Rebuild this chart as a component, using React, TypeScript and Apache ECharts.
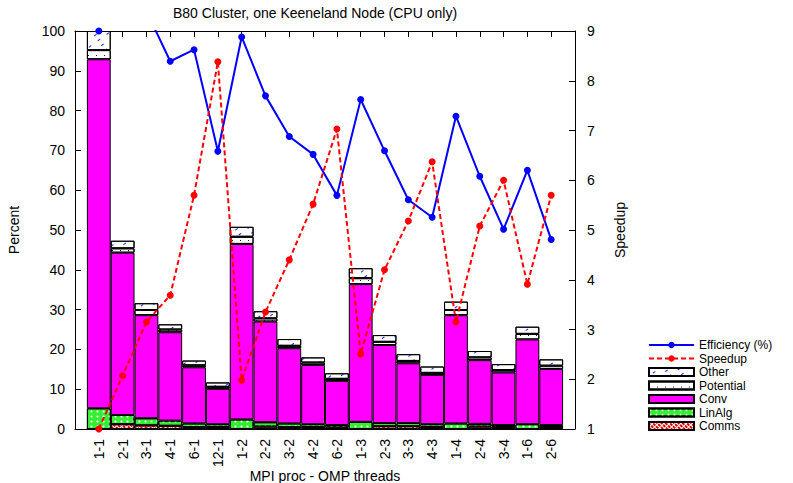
import React, { useEffect, useRef } from "react";
import * as echarts from "echarts";

const categories = ["1-1", "2-1", "3-1", "4-1", "6-1", "12-1", "1-2", "2-2", "3-2", "4-2", "6-2", "1-3", "2-3", "3-3", "4-3", "1-4", "2-4", "3-4", "1-6", "2-6"];

const comms = [0, 1.2, 0.9, 0.8, 0.5, 0.5, 0, 0.6, 0.5, 0.5, 0.4, 0, 0.7, 0.7, 0.5, 0, 0.6, 0.5, 0, 0.5];
const linAlg = [5.2, 2.3, 1.8, 1.3, 0.9, 0.7, 2.4, 1.1, 0.9, 0.7, 0.6, 1.8, 0.8, 0.8, 0.7, 1.4, 0.7, 0.5, 1.2, 0.5];
const conv = [87.7, 40.8, 25.9, 22.2, 14.1, 8.9, 44.1, 25.3, 18.9, 14.9, 11.1, 34.6, 19.6, 15.0, 12.4, 27.2, 16.0, 13.2, 21.3, 14.1];
const potential = [2.3, 1.1, 1.3, 0.7, 0.5, 0.5, 1.8, 0.8, 0.6, 0.6, 0.5, 1.5, 0.8, 0.6, 0.5, 1.3, 0.7, 0.6, 1.4, 0.8];
const other = [4.8, 1.9, 1.7, 1.3, 1.2, 1.1, 2.5, 1.8, 1.7, 1.3, 1.4, 2.5, 1.7, 1.7, 1.6, 2.1, 1.6, 1.5, 1.8, 1.6];
const efficiency = [100, 103.5, 105, 92.4, 95.3, 69.8, 98.5, 83.7, 73.5, 69.0, 58.7, 82.8, 69.9, 57.6, 53.2, 78.6, 63.5, 50.2, 65.0, 47.6];
const speedup = [1.0, 2.07, 3.15, 3.69, 5.7, 8.38, 1.98, 3.35, 4.4, 5.52, 7.03, 2.51, 4.2, 5.18, 6.37, 3.15, 5.08, 6.0, 3.91, 5.7];

const percentTicks = { min: 0, max: 100, interval: 10 };
const speedupTicks = { min: 1, max: 9, interval: 1 };

const FONT = "'Liberation Sans', Arial, Helvetica, sans-serif";

const pad = (arr: number[]) => [null, ...arr, null];

export default function App() {
  const ref = useRef<HTMLDivElement>(null);

  useEffect(() => {
    if (!ref.current) return;
    const chart = echarts.init(ref.current, undefined, { renderer: "svg" });
    const cats = ["", ...categories, ""];

    const barBase = {
      type: "bar",
      stack: "total",
      xAxisIndex: 0,
      yAxisIndex: 0,
      barCategoryGap: "0%",
      barGap: "0%",
    };

    const option = {
      animation: false,
      textStyle: { fontFamily: FONT, color: "#000" },
      title: {
        text: "B80 Cluster, one Keeneland Node (CPU only)",
        left: 168,
        top: 1,
        textStyle: { fontFamily: FONT, fontSize: 14, fontWeight: "normal", color: "#000" },
      },
      grid: { left: 75, top: 31, width: 500, height: 398, containLabel: false, outerBoundsMode: "none" },
      legend: {
        orient: "vertical",
        left: 648,
        top: 339,
        padding: 0,
        itemWidth: 45,
        itemHeight: 8,
        itemGap: 1.5,
        textStyle: { fontFamily: FONT, fontSize: 12, color: "#000" },
        data: [
          { name: "Efficiency (%)" },
          { name: "Speedup" },
          { name: "Other", icon: "rect" },
          { name: "Potential", icon: "rect" },
          { name: "Conv", icon: "rect" },
          { name: "LinAlg", icon: "rect" },
          { name: "Comms", icon: "rect" },
        ],
      },
      xAxis: [
        {
          type: "category",
          data: cats,
          boundaryGap: false,
          position: "bottom",
          name: "MPI proc - OMP threads",
          nameLocation: "middle",
          nameGap: 40,
          nameMoveOverlap: false,
          nameTextStyle: { fontFamily: FONT, fontSize: 14, color: "#000" },
          axisLine: { lineStyle: { color: "#000", width: 1 } },
          axisTick: { inside: true, length: 6, interval: 0, lineStyle: { color: "#000" } },
          axisLabel: { interval: 0, rotate: 90, fontSize: 14, color: "#000", fontFamily: FONT, margin: 10 },
          splitLine: { show: false },
        },
        {
          type: "category",
          data: cats,
          boundaryGap: false,
          position: "top",
          axisLine: { lineStyle: { color: "#000", width: 1 } },
          axisTick: { inside: true, length: 6, interval: 0, lineStyle: { color: "#000" } },
          axisLabel: { show: false },
          splitLine: { show: false },
        },
      ],
      yAxis: [
        {
          type: "value",
          ...percentTicks,
          position: "left",
          name: "Percent",
          nameLocation: "middle",
          nameGap: 54,
          nameRotate: 90,
          nameMoveOverlap: false,
          nameTextStyle: { fontFamily: FONT, fontSize: 14, color: "#000" },
          axisLine: { show: true, lineStyle: { color: "#000", width: 1 } },
          axisTick: { show: true, inside: true, length: 6, lineStyle: { color: "#000" } },
          axisLabel: { fontSize: 14, color: "#000", fontFamily: FONT, margin: 10 },
          splitLine: { show: false },
        },
        {
          type: "value",
          ...speedupTicks,
          position: "right",
          name: "Speedup",
          nameLocation: "middle",
          nameGap: 38,
          nameRotate: 90,
          nameMoveOverlap: false,
          nameTextStyle: { fontFamily: FONT, fontSize: 14, color: "#000" },
          axisLine: { show: true, lineStyle: { color: "#000", width: 1 } },
          axisTick: { show: true, inside: true, length: 6, lineStyle: { color: "#000" } },
          axisLabel: { fontSize: 14, color: "#000", fontFamily: FONT, margin: 12 },
          splitLine: { show: false },
        },
      ],
      series: [
        {
          ...barBase,
          name: "Comms",
          data: pad(comms),
          itemStyle: {
            color: "#ffffff",
            borderColor: "#000",
            borderWidth: 1,
            decal: { symbol: "rect", color: "#e00000", symbolSize: 1, dashArrayX: [3, 1], dashArrayY: [2, 1], rotation: Math.PI / 4 },
          },
        },
        {
          ...barBase,
          name: "LinAlg",
          data: pad(linAlg),
          itemStyle: {
            color: "#33ee33",
            borderColor: "#000",
            borderWidth: 1,
            decal: { symbol: "circle", color: "#ffffff", symbolSize: 0.7, dashArrayX: [3, 3], dashArrayY: [3, 2] },
          },
        },
        {
          ...barBase,
          name: "Conv",
          data: pad(conv),
          itemStyle: { color: "#ff00ff", borderColor: "#000", borderWidth: 1 },
        },
        {
          ...barBase,
          name: "Potential",
          data: pad(potential),
          itemStyle: {
            color: "#ffffff",
            borderColor: "#000",
            borderWidth: 1,
            decal: { symbol: "rect", color: "#222222", symbolSize: 1, dashArrayX: [1, 7], dashArrayY: [1, 4] },
          },
        },
        {
          ...barBase,
          name: "Other",
          data: pad(other),
          itemStyle: {
            color: "#ffffff",
            borderColor: "#000",
            borderWidth: 1,
            decal: { symbol: "rect", color: "#2222ff", symbolSize: 1, dashArrayX: [3, 8], dashArrayY: [1, 5], rotation: -Math.PI / 5 },
          },
        },
        {
          type: "line",
          name: "Efficiency (%)",
          xAxisIndex: 0,
          yAxisIndex: 0,
          data: pad(efficiency),
          clip: true,
          symbol: "circle",
          symbolSize: 7,
          itemStyle: { color: "#0000ff" },
          lineStyle: { color: "#0000ff", width: 2 },
          z: 5,
        },
        {
          type: "line",
          name: "Speedup",
          xAxisIndex: 0,
          yAxisIndex: 1,
          data: pad(speedup),
          clip: true,
          symbol: "circle",
          symbolSize: 7,
          itemStyle: { color: "#ff0000" },
          lineStyle: { color: "#ff0000", width: 2, type: [5, 3] },
          z: 5,
        },
      ],
    };

    chart.setOption(option as any);
    return () => chart.dispose();
  }, []);

  return (
    <div
      ref={ref}
      style={{ position: "fixed", left: 0, top: 0, width: 793, height: 483, background: "#fff" }}
    />
  );
}
